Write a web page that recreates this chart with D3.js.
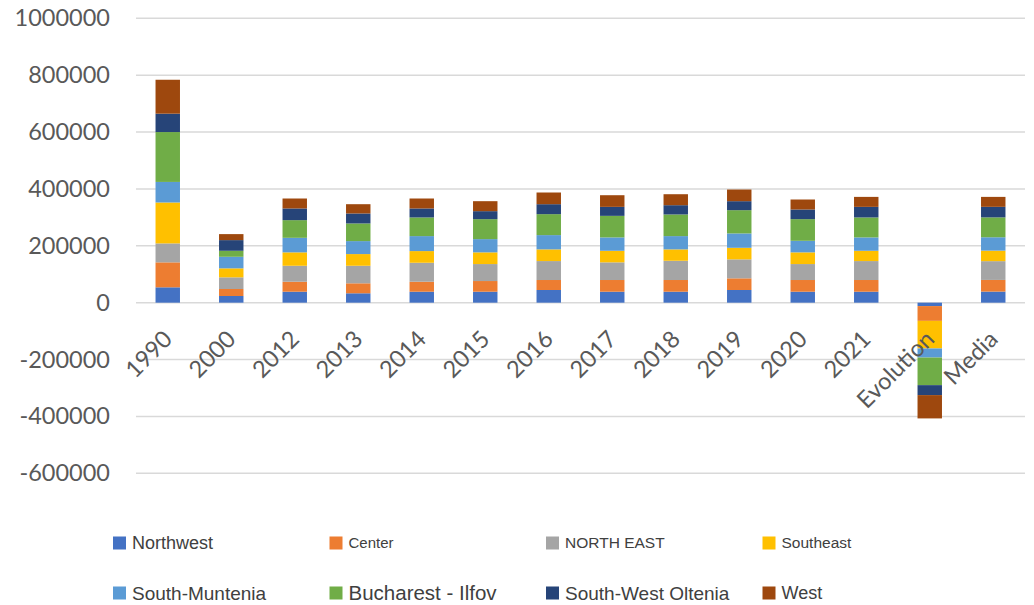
<!DOCTYPE html>
<html>
<head>
<meta charset="utf-8">
<script src="https://cdn.jsdelivr.net/npm/d3@7"></script>
<style>
  body { margin: 0; background: #fff; }
  svg { display: block; }
</style>
</head>
<body>
<svg></svg>
<script>
var categories = ["1990", "2000", "2012", "2013", "2014", "2015", "2016", "2017", "2018", "2019", "2020", "2021", "Evolution", "Media"];

var regions = ["Northwest", "Center", "NORTH EAST", "Southeast", "South-Muntenia", "Bucharest - Ilfov", "South-West Oltenia", "West"];

var northwest = [54000, 23500, 38600, 33000, 38600, 38600, 44600, 38600, 38600, 44600, 38600, 38600, -12000, 39000];
var center = [87800, 24600, 35100, 35100, 35100, 37500, 35100, 41100, 41100, 41000, 41100, 41100, -52000, 41000];
var northEast = [66600, 41000, 56100, 61700, 66700, 59700, 66600, 62100, 67700, 66700, 56100, 66600, 0, 66000];
var southeast = [143900, 31600, 47100, 41100, 41000, 41100, 41100, 40700, 40000, 40700, 41100, 36200, -97000, 37000];
var southMuntenia = [72300, 40700, 51200, 45600, 52700, 46600, 50200, 47000, 46700, 50500, 40700, 47000, -32000, 47000];
var bucharestIlfov = [175400, 21100, 62100, 62100, 65600, 70200, 73700, 75800, 76100, 81800, 76100, 70200, -97000, 70000];
var southWestOltenia = [64600, 37500, 41100, 35100, 31600, 28100, 35000, 31600, 32600, 31600, 34000, 37200, -35000, 37000];
var west = [119300, 21100, 35000, 32600, 35000, 35100, 41100, 41000, 38600, 41000, 35100, 35100, -82000, 35000];

var yTicks = [-600000, -400000, -200000, 0, 200000, 400000, 600000, 800000, 1000000];

// styles
var colors = ["#4472C4", "#ED7D31", "#A5A5A5", "#FFC000", "#5B9BD5", "#70AD47", "#264478", "#9E480E"];
var legendSizes = [18, 15, 15.5, 15.5, 19, 20.5, 19, 18];

var seriesValues = [northwest, center, northEast, southeast, southMuntenia, bucharestIlfov, southWestOltenia, west];

var table = categories.map(function(c, i) {
  var row = {category: c};
  regions.forEach(function(r, j) { row[r] = seriesValues[j][i]; });
  return row;
});

var W = 1034, H = 605;
var svg = d3.select("svg").attr("width", W).attr("height", H);

var x = d3.scaleBand()
    .domain(categories)
    .range([136, 1025])
    .paddingInner(0.615)
    .paddingOuter(0.3075);

var y = d3.scaleLinear()
    .domain([-600000, 1000000])
    .range([473.3, 18.3]);

// gridlines
svg.append("g")
  .selectAll("line")
  .data(yTicks)
  .enter()
  .append("line")
    .attr("x1", 136)
    .attr("x2", 1025)
    .attr("y1", function(d) { return y(d); })
    .attr("y2", function(d) { return y(d); })
    .attr("stroke", "#d9d9d9")
    .attr("stroke-width", 1.5);

// y axis labels (plain hyphen for negatives, like the original)
var yAxis = svg.append("g")
    .attr("transform", "translate(124,0)")
    .call(d3.axisLeft(y).tickValues(yTicks).tickSize(0).tickPadding(14)
      .tickFormat(function(d) { return String(d); }));
yAxis.select(".domain").remove();
yAxis.selectAll("text")
    .style("font-family", "Lato, 'Open Sans', sans-serif")
    .style("font-size", "23.5px")
    .attr("fill", "#595959");

var stack = d3.stack()
    .keys(regions)
    .offset(d3.stackOffsetDiverging);
var stacked = stack(table);

svg.append("g")
  .selectAll("g")
  .data(stacked)
  .enter()
  .append("g")
    .attr("fill", function(d, i) { return colors[i]; })
  .selectAll("rect")
  .data(function(d) { return d; })
  .enter()
  .append("rect")
    .attr("x", function(d) { return x(d.data.category); })
    .attr("y", function(d) { return y(Math.max(d[0], d[1])); })
    .attr("width", x.bandwidth())
    .attr("height", function(d) { return Math.abs(y(d[0]) - y(d[1])); });

// category labels, rotated at the zero line
svg.append("g")
  .selectAll("text")
  .data(categories)
  .enter()
  .append("text")
    .attr("transform", function(d) {
      return "translate(" + (x(d) + x.bandwidth() / 2 + 6) + "," + (y(0) + 38) + ")rotate(-45)";
    })
    .attr("text-anchor", "end")
    .style("font-family", "Lato, 'Open Sans', sans-serif")
    .style("font-size", "23.5px")
    .attr("fill", "#595959")
    .text(function(d) { return d; });

// legend
var legend = svg.append("g")
  .selectAll("g")
  .data(regions)
  .enter()
  .append("g")
    .attr("transform", function(d, i) {
      return "translate(" + (113 + (i % 4) * 216.5) + "," + (i < 4 ? 543 : 593) + ")";
    });
legend.append("rect")
    .attr("x", 0)
    .attr("y", -6.5)
    .attr("width", 13)
    .attr("height", 13)
    .attr("fill", function(d, i) { return colors[i]; });
legend.append("text")
    .attr("x", 19)
    .attr("dy", "0.35em")
    .style("font-family", "'Liberation Sans', Arial, sans-serif")
    .style("font-size", function(d, i) { return legendSizes[i] + "px"; })
    .attr("fill", "#404040")
    .text(function(d) { return d; });
</script>
</body>
</html>
